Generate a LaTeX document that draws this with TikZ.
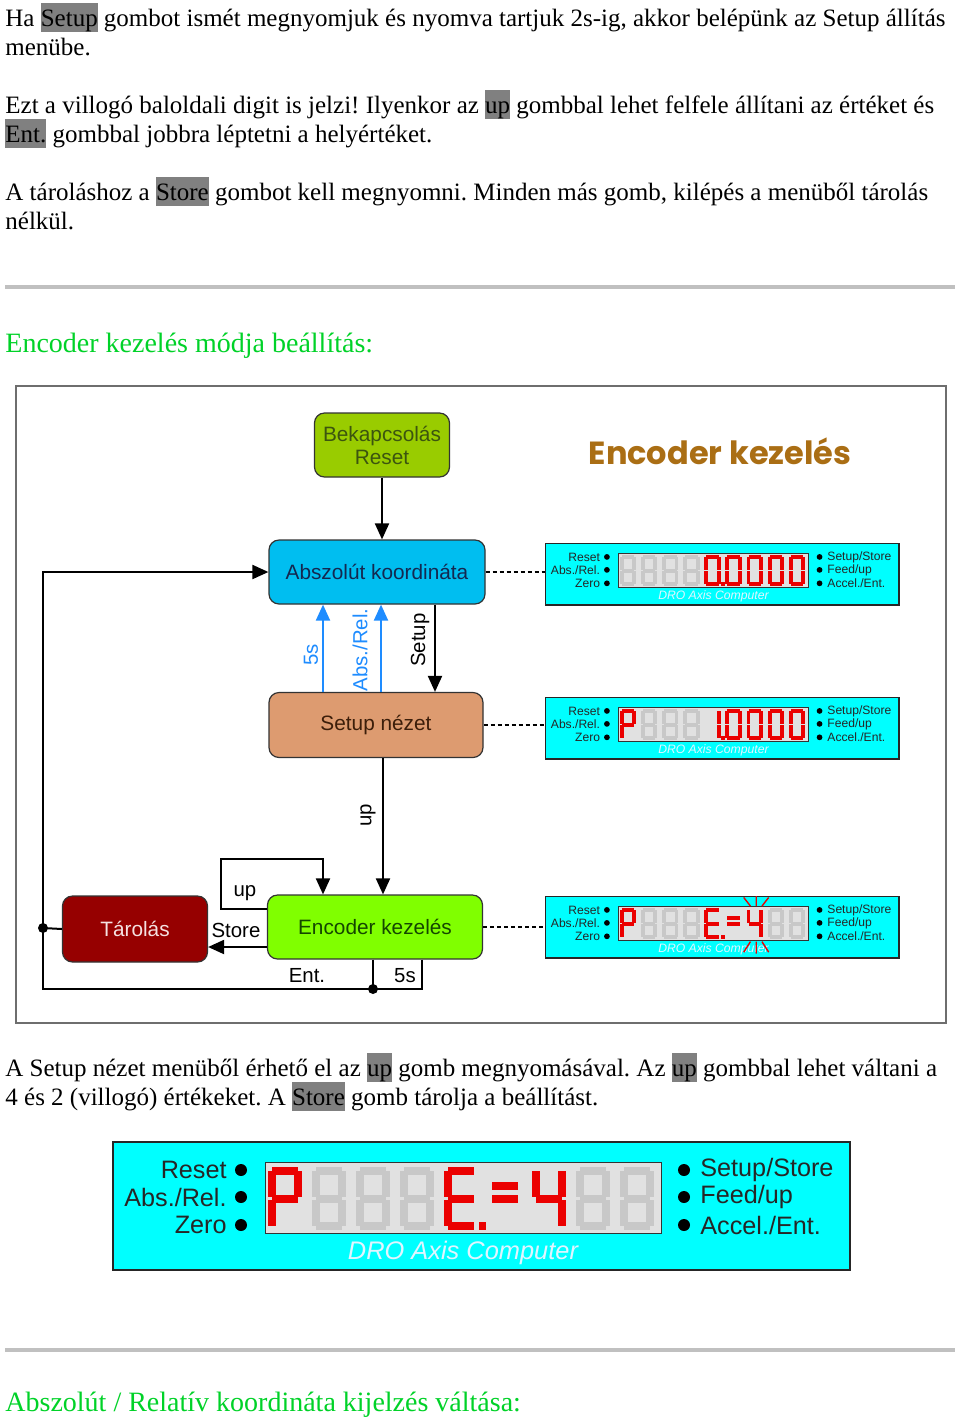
\documentclass[tikz,border=0pt]{standalone}
\usepackage{fontspec}
\setmainfont{Liberation Serif}
\newfontfamily\diafont{Liberation Sans}
\newfontfamily\titlefont{Poppins}
\usetikzlibrary{arrows.meta, positioning, calc}
\frenchspacing

\definecolor{hlgray}{RGB}{128,128,128}
\definecolor{headgreen}{RGB}{0,210,40}
\definecolor{rulegray}{RGB}{192,192,192}
\definecolor{framegray}{RGB}{110,110,110}
\definecolor{resetgreen}{RGB}{153,204,0}
\definecolor{resettext}{RGB}{60,85,15}
\definecolor{absblue}{RGB}{0,190,240}
\definecolor{absnavy}{RGB}{20,40,80}
\definecolor{setuptan}{RGB}{221,155,112}
\definecolor{setupbrown}{RGB}{60,30,10}
\definecolor{encgreen}{RGB}{128,255,0}
\definecolor{encdark}{RGB}{20,70,0}
\definecolor{storered}{RGB}{150,0,0}
\definecolor{storepink}{RGB}{245,225,225}
\definecolor{arrblue}{RGB}{30,140,255}
\definecolor{titlebrown}{RGB}{170,110,20}
\definecolor{lcdgray}{RGB}{225,225,225}
\definecolor{segdimgray}{RGB}{200,200,200}
\definecolor{segred}{RGB}{235,0,0}
\definecolor{drocyan}{RGB}{0,255,255}
\definecolor{drotext}{RGB}{225,245,255}

\newcommand\hl[1]{{\setlength\fboxsep{0pt}\colorbox{hlgray}{\rule[-3.2pt]{0pt}{14.9pt}#1}}}

% seven segment digit, local pixel units
\newcommand\segcoords{%
  \coordinate (a0) at (4,0);    \coordinate (a1) at (30,8);
  \coordinate (b0) at (26,4);   \coordinate (b1) at (34,30);
  \coordinate (c0) at (26,33);  \coordinate (c1) at (34,59);
  \coordinate (d0) at (4,55);   \coordinate (d1) at (30,63);
  \coordinate (e0) at (0,33);   \coordinate (e1) at (8,59);
  \coordinate (f0) at (0,4);    \coordinate (f1) at (8,30);
  \coordinate (g0) at (4,27.5); \coordinate (g1) at (30,35.5);
  \coordinate (h0) at (4,15);   \coordinate (h1) at (30,23);
  \coordinate (p0) at (35,55);  \coordinate (p1) at (42,63);}
\newcommand\dimdigit[1]{%
  \begin{scope}[shift={(156+44*#1,26)}]
    \segcoords
    \foreach \sg in {a,b,c,d,e,f,g} {\fill[segdim] (\sg0) rectangle (\sg1);}
  \end{scope}}
\newcommand\litdigit[2]{%
  \begin{scope}[shift={(156+44*#1,26)}]
    \segcoords
    \foreach \sg in {#2} {\fill[seglit] (\sg0) rectangle (\sg1);}
  \end{scope}}

% DRO panel, 737 x 128 px
\newcommand\drodisplay[1]{%
  \node[dispframe, anchor=north west, minimum width=368.5pt, minimum height=64pt] (#1) at (0,0) {};
  \node[lcd, anchor=north west, minimum width=198pt, minimum height=35.5pt] at (153,21) {};
  \foreach \yy/\lab in {29/Reset, 56/{Abs./Rel.}, 84/Zero}
    {\node[keylab, anchor=east] at (115,\yy) {\lab}; \fill (129,\yy) circle (6);}
  \foreach \yy/\lab in {29/{Setup/Store}, 56/{Feed/up}, 84/{Accel./Ent.}}
    {\fill (572,\yy) circle (6); \node[keylab, anchor=west] at (588,\yy) {\lab};}
  \node[font=\diafont\itshape\fontsize{12.7}{15}\selectfont, text=drotext, inner sep=0pt] at (351,112) {DRO Axis Computer};
}

\begin{document}
\begin{tikzpicture}[x=0.5pt, y=-0.5pt,
  txt/.style={anchor=base west, inner sep=0pt, font=\fontsize{12.5}{15}\selectfont},
  head/.style={anchor=base west, inner sep=0pt, text=headgreen, font=\fontsize{14}{17}\selectfont},
  box/.style={draw=black!80, line width=0.6pt, rounded corners=5pt, align=center,
              inner sep=2pt, font=\diafont\fontsize{10.4}{11.5}\selectfont},
  lbl/.style={inner sep=1.5pt, font=\diafont\fontsize{10.2}{12}\selectfont},
  arr/.style={line width=1pt, -{Triangle[length=8pt, width=7pt]}},
  bluearr/.style={arr, draw=arrblue},
  link/.style={line width=1pt},
  dashlink/.style={line width=0.8pt, dash pattern=on 2pt off 1.5pt},
  dot/.style={circle, fill=black, inner sep=0pt, minimum size=5pt},
  dispframe/.style={draw=black!85, fill=drocyan, line width=0.8pt, inner sep=0pt},
  lcd/.style={draw=black!80, fill=lcdgray, line width=0.6pt, inner sep=0pt},
  keylab/.style={inner sep=0pt, text=black!85, font=\diafont\fontsize{12.6}{15}\selectfont},
  segdim/.style={fill=segdimgray},
  seglit/.style={fill=segred},
]
\useasboundingbox (0,0) rectangle (960,1420);
\fill[white] (0,0) rectangle (960,1420);

% Text above
\node[txt] (t1) at (5,26) {Ha \hl{Setup} gombot ismét megnyomjuk és nyomva tartjuk 2s-ig, akkor belépünk az Setup állítás};
\node[txt] (t2) at (5,55) {menübe.};
\node[txt] (t3) at (5,113) {Ezt a villogó baloldali digit is jelzi! Ilyenkor az \hl{up} gombbal lehet felfele állítani az értéket és};
\node[txt] (t4) at (5,142) {\hl{Ent.} gombbal jobbra léptetni a helyértéket.};
\node[txt] (t5) at (5,200) {A tároláshoz a \hl{Store} gombot kell megnyomni. Minden más gomb, kilépés a menüből tárolás};
\node[txt] (t6) at (5,229) {nélkül.};

\draw[rulegray, line width=1.75pt] (5,287) -- (955,287);
\node[head] (h1) at (5,352) {Encoder kezelés módja beállítás:};

% Diagram
\draw[framegray, line width=0.8pt, fill=white] (16,386) rectangle (946,1023);
\node[text=titlebrown, font=\titlefont\bfseries\fontsize{16}{19}\selectfont] (title) at (720,451) {Encoder kezelés};

\node[box, fill=resetgreen, text=resettext, minimum width=67.5pt, minimum height=32pt] (reset) at (382,445) {Bekapcsolás\\Reset};
\node[box, fill=absblue, text=absnavy, minimum width=108pt, minimum height=32pt] (abs) at (377,572) {Abszolút koordináta};
\node[box, fill=setuptan, text=setupbrown, minimum width=107pt, minimum height=32.5pt] (setup) at (376,725) {Setup nézet};
\node[box, fill=encgreen, text=encdark, minimum width=107.5pt, minimum height=32pt] (enc) at (375,927) {Encoder kezelés};
\node[box, fill=storered, text=storepink, minimum width=72.5pt, minimum height=33pt] (store) at (135,929) {Tárolás};

% Displays
\begin{scope}[shift={(545,543)}, scale=0.48, transform shape]
  \drodisplay{dA}
  \foreach \k in {0,...,3} {\dimdigit{\k}}
  \litdigit{4}{a,b,c,d,e,f,p}
  \foreach \k in {5,...,8} {\litdigit{\k}{a,b,c,d,e,f}}
\end{scope}
\begin{scope}[shift={(545,697)}, scale=0.48, transform shape]
  \drodisplay{dB}
  \litdigit{0}{a,b,e,f,g}
  \foreach \k in {1,...,3} {\dimdigit{\k}}
  \litdigit{4}{b,c,p}
  \foreach \k in {5,...,8} {\litdigit{\k}{a,b,c,d,e,f}}
\end{scope}
\begin{scope}[shift={(545,896)}, scale=0.48, transform shape]
  \drodisplay{dC}
  \litdigit{0}{a,b,e,f,g}
  \foreach \k in {1,...,3} {\dimdigit{\k}}
  \litdigit{4}{a,d,e,f,g,p}
  \litdigit{5}{h,g}
  \litdigit{6}{b,c,f,g}
  \foreach \k in {7,8} {\dimdigit{\k}}
  % blink
  \draw[segred, line width=0.7pt] (414,3) -- (428,21) (440,0) -- (440,21) (466,3) -- (452,21)
        (414,117) -- (428,95) (440,120) -- (440,95) (466,117) -- (452,95);
\end{scope}

% Connectors
\coordinate (x5s) at (323,0);
\coordinate (xar) at (381,0);
\coordinate (xsu) at (435,0);
\coordinate (xup) at (383,0);
\coordinate (lpb) at (221,909);
\coordinate (lpt) at (323,859);
\coordinate (ystore) at (0,947);
\coordinate (x5b) at (422,0);
\coordinate (lft) at (43,989);
\node[dot] (jn) at (373,989) {};
\node[dot] (jl) at (43,928) {};

\draw[arr] (reset.south) -- (reset.south |- abs.north);
\draw[bluearr] (setup.north -| x5s) -- (abs.south -| x5s);
\draw[bluearr] (setup.north -| xar) -- (abs.south -| xar);
\draw[arr] (abs.south -| xsu) -- (setup.north -| xsu);
\draw[arr] (setup.south -| xup) -- (enc.north -| xup);
\draw[arr] (enc.west |- lpb) -- (lpb) |- (lpt) -- (enc.north -| lpt);
\draw[arr] (enc.west |- ystore) -- (store.east |- ystore);
\draw[arr] (enc.south -| jn) -- (jn.center) -- (lft) |- (abs.west);
\draw[link] (enc.south -| x5b) |- (jn.center);
\draw[link] (store.west) -- (jl.center);

\draw[dashlink] (abs.east) -- (abs.east -| dA.west);
\draw[dashlink] (setup.east) -- (setup.east -| dB.west);
\draw[dashlink] (enc.east) -- (enc.east -| dC.west);

% Labels
\node[lbl, rotate=90, text=arrblue] (l5s) at (311,655) {5s};
\node[lbl, rotate=90, text=arrblue] (lar) at (360,650) {Abs./Rel.};
\node[lbl, rotate=90] (lsu) at (420,640) {Setup};
\node[lbl, rotate=90] (lup) at (368,815) {up};
\node[lbl] (lup2) at (245,893) {up};
\node[lbl] (lst) at (236,930) {Store};
\node[lbl] (lent) at (307,976) {Ent.};
\node[lbl] (l5b) at (405,976) {5s};

% Text below
\node[txt] (t7) at (5,1076) {A Setup nézet menüből érhető el az \hl{up} gomb megnyomásával. Az \hl{up} gombbal lehet váltani a};
\node[txt] (t8) at (5,1105) {4 és 2 (villogó) értékeket. A \hl{Store} gomb tárolja a beállítást.};

% Big display
\begin{scope}[shift={(112,1141)}, scale=1, transform shape]
  \drodisplay{dBig}
  \litdigit{0}{a,b,e,f,g}
  \foreach \k in {1,...,3} {\dimdigit{\k}}
  \litdigit{4}{a,d,e,f,g,p}
  \litdigit{5}{h,g}
  \litdigit{6}{b,c,f,g}
  \foreach \k in {7,8} {\dimdigit{\k}}
\end{scope}

\draw[rulegray, line width=1.75pt] (5,1350) -- (955,1350);
\node[head] (h2) at (5,1411) {Abszolút / Relatív koordináta kijelzés váltása:};
\end{tikzpicture}
\end{document}
